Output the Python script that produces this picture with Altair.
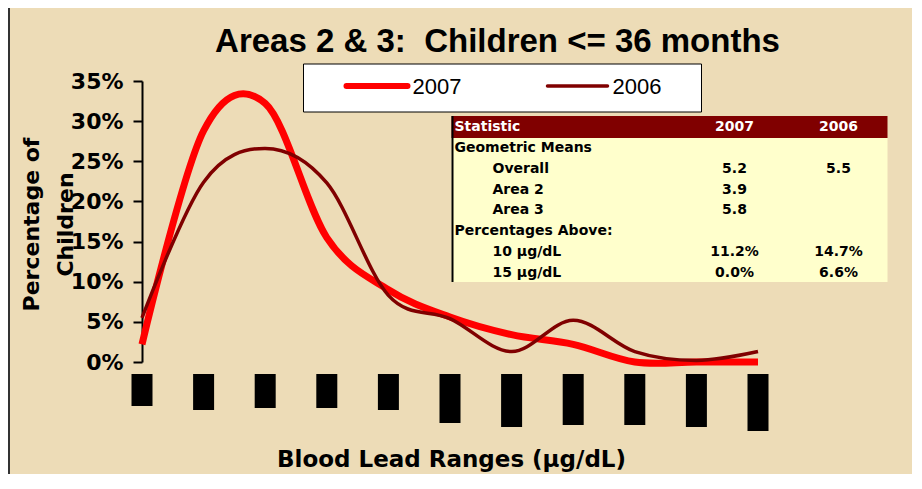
import altair as alt
import pandas as pd

# ---------------- data ----------------
categories = ["0-1", "2-3", "4-5", "6-7", "8-9", "10-11", "12-13", "14-15", "16-17", "18-19", "20+"]
pct_2007 = [2.2, 28.8, 32.2, 15.5, 9.0, 5.6, 3.4, 2.2, 0.0, 0.0, 0.0]
pct_2006 = [5.5, 22.4, 26.6, 22.3, 8.3, 5.4, 1.3, 5.2, 1.3, 0.2, 1.3]
series = ["2007", "2006"]
series_colors = ["#FF0000", "#800000"]
series_widths = [7, 3.5]
y_ticks = [0, 5, 10, 15, 20, 25, 30, 35]
# rotated tick labels render as solid black blocks; their lengths in px
label_block_len = [32, 36, 34, 34, 36, 49, 53, 51, 51, 53, 57]

table_header = ["Statistic", "2007", "2006"]
table_rows = ["Geometric Means", "Overall", "Area 2", "Area 3",
              "Percentages Above:", "10 µg/dL", "15 µg/dL"]
table_indent = [0, 1, 1, 1, 0, 1, 1]
table_2007 = ["", "5.2", "3.9", "5.8", "", "11.2%", "0.0%"]
table_2006 = ["", "5.5", "", "", "", "14.7%", "6.6%"]

title_text = "Areas 2 & 3:\u00a0 Children <= 36 months"
x_title = "Blood Lead Ranges (µg/dL)"
y_title = ["Percentage of", "Children"]

# ---------------- layout ----------------
W, H = 616, 281
PAD_L, PAD_T = 134, 73
TOTAL_W, TOTAL_H = 904, 466
BG = "#EDDCB7"
BOLD_FONT = "DejaVu Sans"
ARIAL = "Liberation Sans"

one = pd.DataFrame({"k": [0]})

x_scale = alt.Scale(type="point", padding=0, domain=categories)

# ---------------- line layers ----------------
line_layers = []
for name, vals, col, sw in zip(series, [pct_2007, pct_2006], series_colors, series_widths):
    df = pd.DataFrame({"range": categories, "pct": vals})
    line_layers.append(
        alt.Chart(df).mark_line(interpolate="cardinal", color=col, strokeWidth=sw,
                                strokeJoin="round", strokeCap="butt").encode(
            x=alt.X("range:O", sort=categories, scale=x_scale,
                    axis=alt.Axis(labels=False, title=None, tickSize=6, tickWidth=2,
                                  tickColor="black", domainColor="black", domainWidth=2)),
            y=alt.Y("pct:Q", scale=alt.Scale(domain=[0, 35], nice=False),
                    axis=alt.Axis(values=y_ticks, labelExpr="datum.value + '%'",
                                  labelFont=BOLD_FONT, labelFontSize=22, labelFontWeight="bold",
                                  labelColor="black", tickSize=9, tickWidth=2, tickColor="black",
                                  domainColor="black", domainWidth=2, labelPadding=10, grid=False,
                                  title=y_title, titleFont=BOLD_FONT, titleFontSize=22,
                                  titleFontWeight="bold", titleColor="black", titleAngle=270,
                                  titleX=-111, titleY=143, titleAlign="center",
                                  titleBaseline="middle", titleLineHeight=34)),
        )
    )

# ---------------- label blocks under x axis ----------------
blocks = pd.DataFrame({"range": categories,
                       "top": [293] * len(categories),
                       "bottom": [293 + v for v in label_block_len]})
block_layer = alt.Chart(blocks).mark_bar(width=21, color="black").encode(
    x=alt.X("range:O", sort=categories, scale=x_scale, axis=None),
    y=alt.Y("top:Q", scale=None, axis=None),
    y2="bottom",
)

# ---------------- x axis title ----------------
x_title_layer = alt.Chart(one).mark_text(font=BOLD_FONT, fontSize=23, fontWeight="bold",
                                         color="black", align="center",
                                         baseline="alphabetic").encode(
    x=alt.value(309.5), y=alt.value(386), text=alt.value(x_title))

# ---------------- title ----------------
title_layer = alt.Chart(one).mark_text(font=ARIAL, fontSize=33, fontWeight="bold",
                                       color="black", align="center",
                                       baseline="alphabetic").encode(
    x=alt.value(355.5), y=alt.value(-29), text=alt.value(title_text))

# ---------------- legend box ----------------
legend_box = alt.Chart(one).mark_rect(fill="white", stroke="black", strokeWidth=1).encode(
    x=alt.value(161.5), x2=alt.value(559.5), y=alt.value(-17), y2=alt.value(31))
legend_df = pd.DataFrame({"year": series,
                          "x1": [204.5, 405.5], "x2": [265.5, 465.5],
                          "ly": [5, 5], "tx": [270.5, 470.5], "ty": [12.5, 12.5]})
legend_lines = []
for i, (name, col, sw) in enumerate(zip(series, series_colors, series_widths)):
    legend_lines.append(
        alt.Chart(legend_df.iloc[[i]]).mark_rule(color=col, strokeWidth=sw - 1 if i == 0 else sw,
                                                  strokeCap="round").encode(
            x=alt.X("x1:Q", scale=None, axis=None), x2="x2",
            y=alt.Y("ly:Q", scale=None, axis=None)))
legend_text = alt.Chart(legend_df).mark_text(font=ARIAL, fontSize=22, color="black",
                                             align="left", baseline="alphabetic").encode(
    x=alt.X("tx:Q", scale=None, axis=None), y=alt.Y("ty:Q", scale=None, axis=None),
    text="year:N")

# ---------------- statistics table ----------------
TX1, TX2 = 309.5, 745.5
header_rect = alt.Chart(one).mark_rect(fill="#800000").encode(
    x=alt.value(TX1), x2=alt.value(TX2), y=alt.value(35), y2=alt.value(57))
body_rect = alt.Chart(one).mark_rect(fill="#FFFFCC").encode(
    x=alt.value(TX1), x2=alt.value(TX2), y=alt.value(57), y2=alt.value(201))
left_rule = alt.Chart(one).mark_rule(color="black", strokeWidth=2).encode(
    x=alt.value(TX1 + 1), y=alt.value(35), y2=alt.value(201))

hdr_df = pd.DataFrame({"t": table_header, "x": [312.5, 592.5, 696.5], "y": [46, 46, 46]})
hdr_left = alt.Chart(hdr_df.iloc[[0]]).mark_text(font=BOLD_FONT, fontSize=14, fontWeight="bold",
                                                 color="white", align="left",
                                                 baseline="middle").encode(
    x=alt.X("x:Q", scale=None, axis=None), y=alt.Y("y:Q", scale=None, axis=None), text="t:N")
hdr_center = alt.Chart(hdr_df.iloc[1:]).mark_text(font=BOLD_FONT, fontSize=14, fontWeight="bold",
                                                  color="white", align="center",
                                                  baseline="middle").encode(
    x=alt.X("x:Q", scale=None, axis=None), y=alt.Y("y:Q", scale=None, axis=None), text="t:N")

row_y = [67 + i * 20.8 for i in range(len(table_rows))]
rows_df = pd.DataFrame({"t": table_rows,
                        "x": [312.5 + 38 * ind for ind in table_indent],
                        "y": row_y})
rows_layer = alt.Chart(rows_df).mark_text(font=BOLD_FONT, fontSize=14, fontWeight="bold",
                                          color="black", align="left",
                                          baseline="middle").encode(
    x=alt.X("x:Q", scale=None, axis=None), y=alt.Y("y:Q", scale=None, axis=None), text="t:N")
vals_df = pd.DataFrame({"t": table_2007 + table_2006,
                        "x": [592.5] * len(table_2007) + [696.5] * len(table_2006),
                        "y": row_y + row_y})
vals_df = vals_df[vals_df["t"] != ""]
vals_layer = alt.Chart(vals_df).mark_text(font=BOLD_FONT, fontSize=14, fontWeight="bold",
                                          color="black", align="center",
                                          baseline="middle").encode(
    x=alt.X("x:Q", scale=None, axis=None), y=alt.Y("y:Q", scale=None, axis=None), text="t:N")

# ---------------- frame lines of the picture ----------------
frame_left = alt.Chart(one).mark_rule(color="#333333", strokeWidth=2).encode(
    x=alt.value(-PAD_L + 1), y=alt.value(-PAD_T), y2=alt.value(TOTAL_H - PAD_T))

chart = alt.layer(
    frame_left,
    block_layer,
    *line_layers,
    legend_box, *legend_lines, legend_text,
    header_rect, body_rect, left_rule, hdr_left, hdr_center, rows_layer, vals_layer,
    title_layer, x_title_layer,
).properties(
    width=W, height=H,
    autosize=alt.AutoSizeParams(type="none"),
    padding={"left": PAD_L, "top": PAD_T, "right": TOTAL_W - PAD_L - W,
             "bottom": TOTAL_H - PAD_T - H},
    background=BG,
).configure_view(stroke=None)

chart.save("out.html", embed_options={"renderer": "svg", "actions": False})
